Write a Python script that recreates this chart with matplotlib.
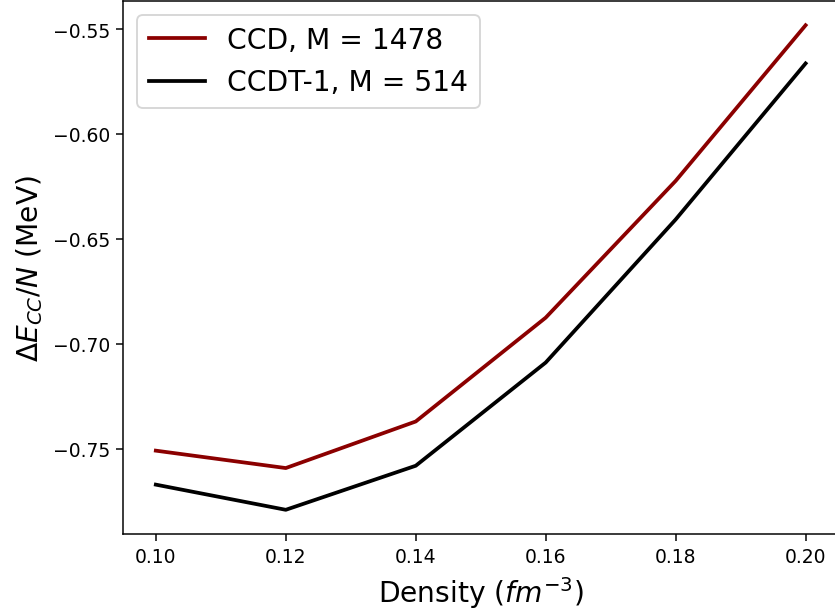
import numpy as np
import matplotlib.pyplot as plt

# densities (fm^-3)
density = [0.10, 0.12, 0.14, 0.16, 0.18, 0.20]

# correlation energy per particle (MeV)
ccd = [-0.7510, -0.7593, -0.7371, -0.6876, -0.6224, -0.5482]
ccdt1 = [-0.7672, -0.7792, -0.7582, -0.7090, -0.6408, -0.5664]

labels = ['CCD, M = 1478', 'CCDT-1, M = 514']

fig = plt.figure(figsize=(835 / 135, 613 / 135), dpi=135)
ax = fig.add_axes([0.1477, 0.1272, 0.856, 0.8695])

ax.plot(density, ccd, color='darkred', linewidth=2, label=labels[0])
ax.plot(density, ccdt1, color='black', linewidth=2, label=labels[1])

ax.set_xlabel(r'Density ($fm^{-3}$)', fontsize=15)
ax.set_ylabel(r'$\Delta E_{CC}/N$ (MeV)', fontsize=15)
ax.set_xticks([0.10, 0.12, 0.14, 0.16, 0.18, 0.20])
ax.set_yticks([-0.55, -0.60, -0.65, -0.70, -0.75])
ax.legend(loc='upper left', fontsize=15)

fig.savefig('out.png', dpi=135)
